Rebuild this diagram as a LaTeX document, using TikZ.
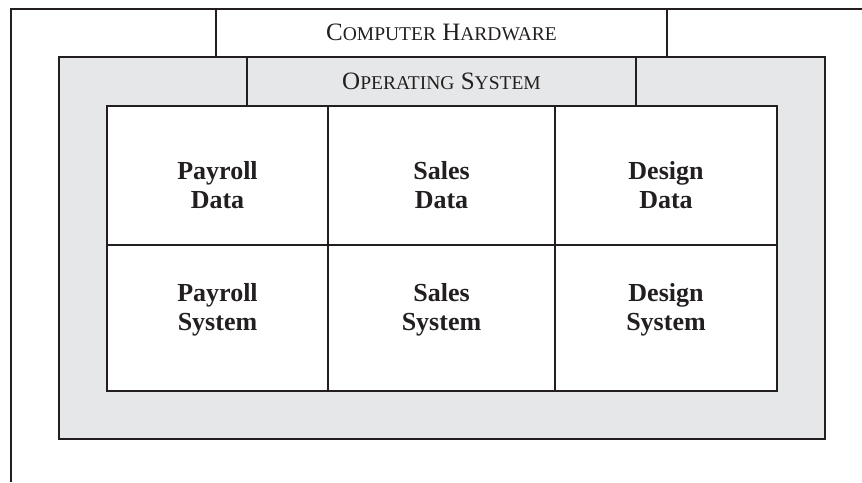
\documentclass[tikz,border=0pt]{standalone}
\usepackage{fontspec}
\setmainfont{Liberation Serif}
\definecolor{inkline}{HTML}{231F20}
\definecolor{osgray}{HTML}{E6E7E8}
\newcommand{\fakesc}[2]{{\fontsize{25}{30}\selectfont #1}{\fontsize{19.5}{30}\selectfont #2}}

\begin{document}
\begin{tikzpicture}[x=1pt,y=-1pt]
			\tikzstyle{frame}=[draw=inkline,line width=2.2pt]
			\tikzstyle{layer}=[font=\fontsize{25}{30}\selectfont,text=inkline,inner sep=0pt]
			\tikzstyle{cell}=[align=center,font=\fontsize{26}{29.5}\selectfont\bfseries,text=inkline,inner sep=0pt]
			\useasboundingbox (0,0) rectangle (862,482);
			
			% hardware
			\draw[frame] (11,482) -- (11,9) -- (862,9);
			\draw[frame] (216,9) -- (216,57);
			\draw[frame] (667,9) -- (667,57);
			\node[layer] (hw) at (441.5,32.7) {\fakesc{C}{OMPUTER} \fakesc{H}{ARDWARE}};
			
			% operating system
			\draw[frame,fill=osgray] (59,57) rectangle (825,439);
			\draw[frame] (247,57) -- (247,106);
			\draw[frame] (636,57) -- (636,106);
			\node[layer] (os) at (441.5,81.7) {\fakesc{O}{PERATING} \fakesc{S}{YSTEM}};
			
			% applications and data
			\draw[frame,fill=white] (107,106) rectangle (777,391);
			\draw[frame] (328,106) -- (328,391);
			\draw[frame] (555,106) -- (555,391);
			\draw[frame] (107,245) -- (777,245);
			
			\node[cell] (paydata) at (217.5,185) {Payroll\\Data};
			\node[cell] (salesdata) at (441.5,185) {Sales\\Data};
			\node[cell] (designdata) at (666,185) {Design\\Data};
			\node[cell] (paysys) at (217.5,310) {Payroll\\System};
			\node[cell] (salessys) at (441.5,310) {Sales\\System};
			\node[cell] (designsys) at (666,310) {Design\\System};
\end{tikzpicture}
\end{document}
